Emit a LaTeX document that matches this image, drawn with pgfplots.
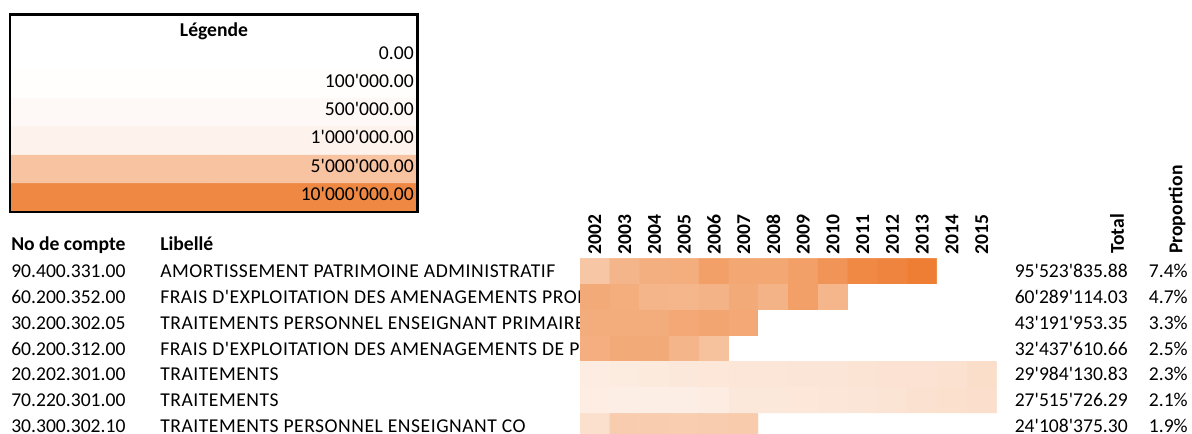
\documentclass[border=0pt]{standalone}
\usepackage{pgfplots}
\pgfplotsset{compat=1.18}
\usepackage{pgfplotstable}
\usepackage{fontspec}
\setmainfont{Carlito}[Ligatures=TeXOff]

\newcommand\fs{\fontsize{14.7}{17}\selectfont}
\newcommand\fsl{\fontsize{14.7}{17}\selectfont\addfontfeature{LetterSpace=2.7}}
\pgfplotsset{colormap={xl}{rgb255(0cm)=(255,255,255) rgb255(1cm)=(237,125,49)}}

% legend bands, values in millions
\pgfplotstableread{
x y v
0 0 0
1 0 0
0 1 0.1
1 1 0.1
0 2 0.5
1 2 0.5
0 3 1
1 3 1
0 4 5
1 4 5
0 5 10
1 5 10
}\legtab

% yearly amounts in millions (0 = no entry), x = year-2002, y = row
\pgfplotstableread{
x y v
0 0 4.8
1 0 6.2
2 0 6.7
3 0 6.9
4 0 8.0
5 0 7.4
6 0 7.4
7 0 8.0
8 0 8.9
9 0 9.9
10 0 10.3
11 0 10.8
12 0 0
13 0 0
0 1 7.1
1 1 6.9
2 1 6.2
3 1 6.1
4 1 6.4
5 1 7.1
6 1 6.4
7 1 8.0
8 1 6.1
9 1 0
10 1 0
11 1 0
12 1 0
13 1 0
0 2 7.0
1 2 7.0
2 2 7.0
3 2 7.3
4 2 7.6
5 2 7.3
6 2 0
7 2 0
8 2 0
9 2 0
10 2 0
11 2 0
12 2 0
13 2 0
0 3 6.8
1 3 7.1
2 3 7.1
3 3 6.2
4 3 5.2
5 3 0
6 3 0
7 3 0
8 3 0
9 3 0
10 3 0
11 3 0
12 3 0
13 3 0
0 4 1.6
1 4 1.7
2 4 1.8
3 4 1.9
4 4 2.0
5 4 2.1
6 4 2.1
7 4 2.2
8 4 2.2
9 4 2.3
10 4 2.4
11 4 2.4
12 4 2.5
13 4 2.8
0 5 1.5
1 5 1.4
2 5 1.4
3 5 1.4
4 5 1.6
5 5 1.9
6 5 1.9
7 5 2.0
8 5 2.1
9 5 2.2
10 5 2.3
11 5 2.5
12 5 2.6
13 5 2.7
0 6 2.6
1 6 4.3
2 6 4.3
3 6 4.2
4 6 4.3
5 6 4.4
6 6 0
7 6 0
8 6 0
9 6 0
10 6 0
11 6 0
12 6 0
13 6 0
}\cells

\begin{document}
\begin{tikzpicture}[x=0.75pt,y=-0.75pt]
\useasboundingbox (0,0) rectangle (1192,434);
\clip (0,0) rectangle (1192,434);
\coordinate (lg) at (10.5,41.6);
\coordinate (hm) at (580,258.3);

% legend
\begin{axis}[
  at={(lg)}, anchor=north west,
  scale only axis, width=305.6pt, height=127.6pt,
  xmin=-0.5, xmax=1.5, ymin=-0.5, ymax=5.5,
  y dir=reverse, hide axis,
  colormap name=xl, point meta min=0, point meta max=11,
]
\addplot[matrix plot*, mesh/cols=2, point meta=explicit] table[meta=v] {\legtab};
\end{axis}
\draw[line width=1.7pt] (10,14.5) rectangle (417.5,212);
\node[font=\fs\bfseries, anchor=base] at (214,37) {Légende};
\foreach \t/\b in {0.00/59.5, 100'000.00/88, 500'000.00/115.5,
  1'000'000.00/144, 5'000'000.00/172.2, 10'000'000.00/200.5}
  \node[font=\fs, anchor=base east, inner sep=0] at (414,\b) {\t};

% table headers
\node[font=\fs\bfseries, anchor=base west, inner sep=0] at (11,251) {No de compte};
\node[font=\fs\bfseries, anchor=base west, inner sep=0] at (160,251) {Libellé};
\node[font=\fs\bfseries, rotate=90, anchor=west, inner sep=0] at (1117,254) {Total};
\node[font=\fs\bfseries, rotate=90, anchor=west, inner sep=0] at (1177,254) {Proportion};

\foreach \n/\b in {90.400.331.00/277.5, 60.200.352.00/303.4, 30.200.302.05/329.2,
  60.200.312.00/355.1, 20.202.301.00/380.9, 70.220.301.00/406.8, 30.300.302.10/432.4}
  \node[font=\fs, anchor=base west, inner sep=0] at (11,\b) {\n};

\begin{scope}
\clip (0,0) rectangle (580,434);
\node[font=\fsl, anchor=base west, inner sep=0] at (160,277.5) {AMORTISSEMENT PATRIMOINE ADMINISTRATIF};
\node[font=\fsl, anchor=base west, inner sep=0] at (160,303.4) {FRAIS D'EXPLOITATION DES AMENAGEMENTS PROPRES};
\node[font=\fsl, anchor=base west, inner sep=0] at (160,329.2) {TRAITEMENTS PERSONNEL ENSEIGNANT PRIMAIRE};
\node[font=\fsl, anchor=base west, inner sep=0] at (160,355.1) {FRAIS D'EXPLOITATION DES AMENAGEMENTS DE PLEIN AIR};
\node[font=\fsl, anchor=base west, inner sep=0] at (160,380.9) {TRAITEMENTS};
\node[font=\fsl, anchor=base west, inner sep=0] at (160,406.8) {TRAITEMENTS};
\node[font=\fsl, anchor=base west, inner sep=0] at (160,432.4) {TRAITEMENTS PERSONNEL ENSEIGNANT CO};
\end{scope}

\foreach \t/\p/\b in {95'523'835.88/7.4/277.5, 60'289'114.03/4.7/303.4,
  43'191'953.35/3.3/329.2, 32'437'610.66/2.5/355.1, 29'984'130.83/2.3/380.9,
  27'515'726.29/2.1/406.8, 24'108'375.30/1.9/432.4}{
  \node[font=\fs, anchor=base east, inner sep=0] at (1128,\b) {\t};
  \node[font=\fs, anchor=base east, inner sep=0] at (1188,\b) {\p\%};
}

% heat map
\begin{axis}[
  at={(hm)}, anchor=north west,
  scale only axis, width=312.5pt, height=135.7pt,
  xmin=-0.5, xmax=13.5, ymin=-0.5, ymax=6.5,
  y dir=reverse,
  axis line style={draw=none}, tick style={draw=none},
  ytick=\empty,
  xtick={0,...,13},
  xticklabels={2002,2003,2004,2005,2006,2007,2008,2009,2010,2011,2012,2013,2014,2015},
  xticklabel pos=upper,
  xticklabel style={rotate=90, anchor=west, inner sep=2.5pt, font=\fs\bfseries},
  colormap name=xl, point meta min=0, point meta max=11,
]
\addplot[matrix plot*, mesh/cols=14, point meta=explicit] table[meta=v] {\cells};
\end{axis}
\end{tikzpicture}
\end{document}
